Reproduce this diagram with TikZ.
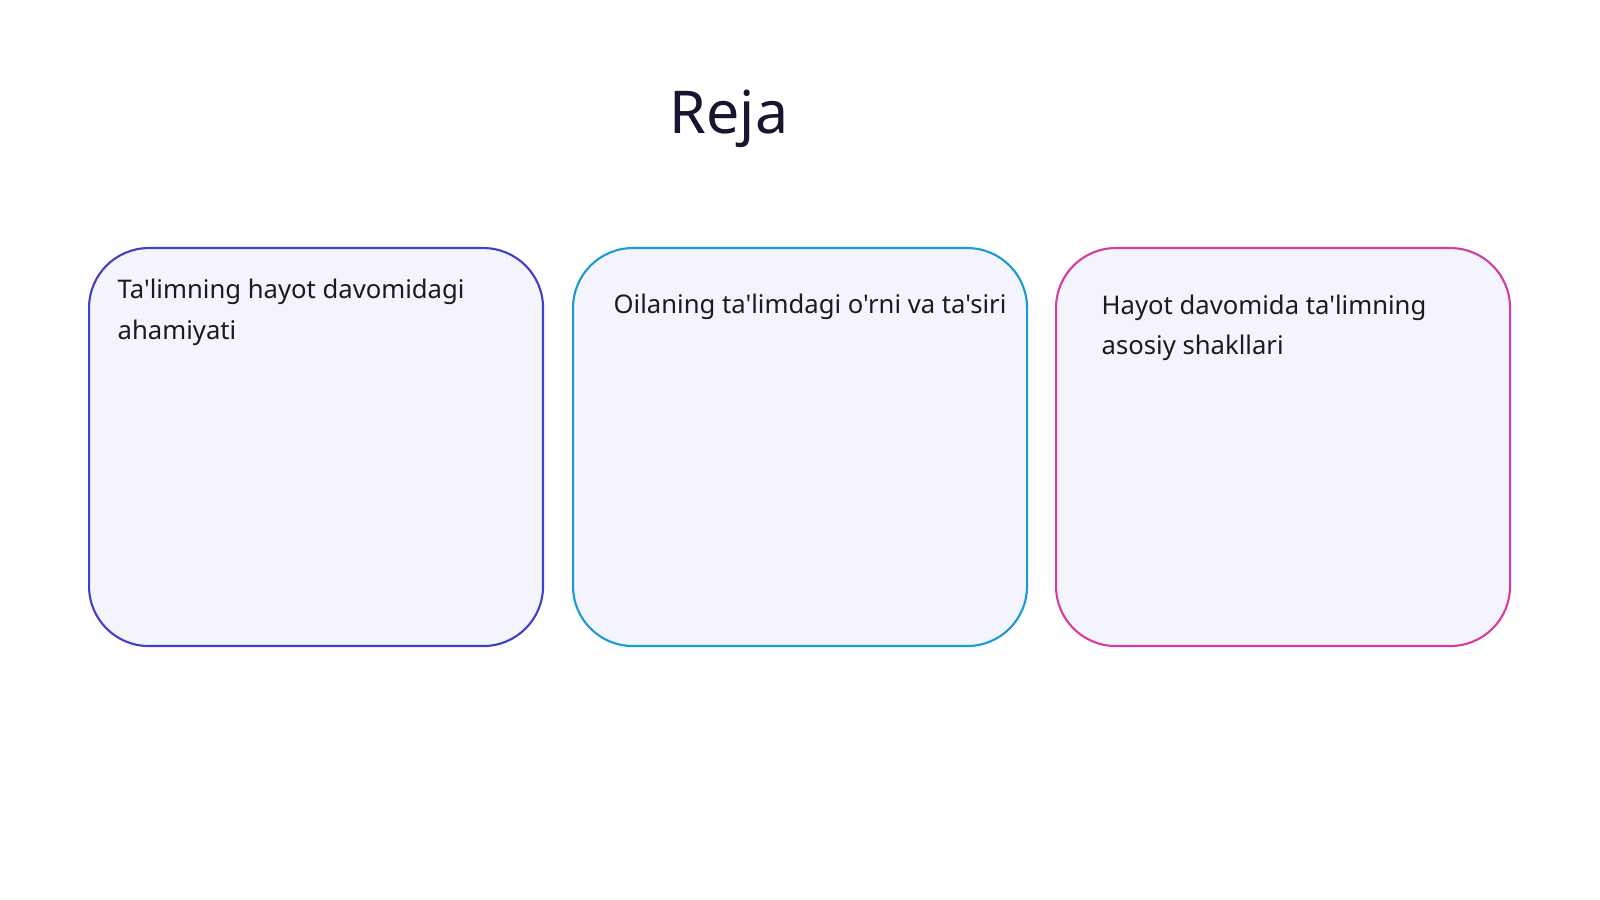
\documentclass[tikz,border=0pt]{standalone}
\usepackage{fontspec}
\newfontfamily\notofont{Noto Sans}
\definecolor{titlecol}{HTML}{16162E}
\definecolor{textcol}{HTML}{1A1A24}
\definecolor{boxfill}{HTML}{F4F4FC}
\definecolor{bordA}{HTML}{4040C8}
\definecolor{bordB}{HTML}{1A9AD6}
\definecolor{bordC}{HTML}{D63C9C}
\begin{document}
\begin{tikzpicture}[x=0.1mm,y=-0.1mm,
  card/.style={draw=#1, line width=0.6pt, fill=boxfill, rounded corners=17pt,
    minimum width=45.4mm, minimum height=39.8mm, anchor=north west, inner sep=0pt},
  cardtext/.style={anchor=base west, inner sep=0pt, text=textcol, align=left,
    font=\notofont\fontsize{7.3}{11.4}\selectfont},
  titletext/.style={anchor=base, inner sep=0pt, text=titlecol, font=\notofont\fontsize{16.8}{20}\selectfont}]
\useasboundingbox (0,0) rectangle (1600,900);
\fill[white] (0,0) rectangle (1600,900);
\node[titletext] (title) at (729,134) {Reja};
\node[card=bordA] (c1) at (88,247) {};
\node[card=bordB] (c2) at (572,247) {};
\node[card=bordC] (c3) at (1055,247) {};
\node[cardtext] (t1) at (117,339) {Ta'limning hayot davomidagi\\ahamiyati};
\node[cardtext] (t2) at (613,313) {Oilaning ta'limdagi o'rni va ta'siri};
\node[cardtext] (t3) at (1101,355) {Hayot davomida ta'limning\\asosiy shakllari};
\end{tikzpicture}
\end{document}
